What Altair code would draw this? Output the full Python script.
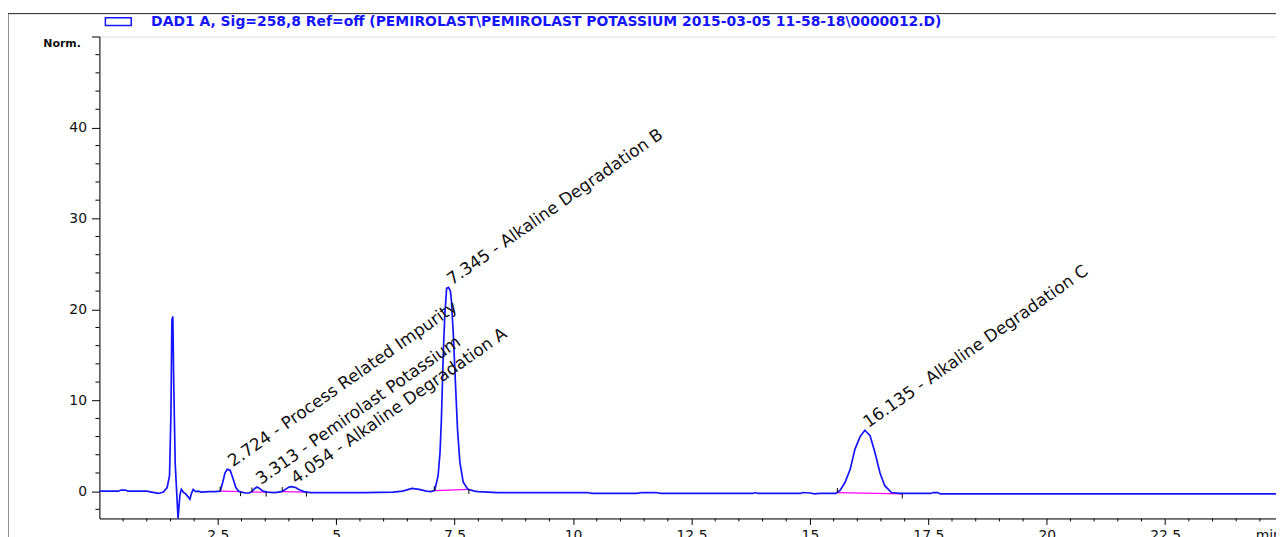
import altair as alt
import pandas as pd

# ---- chromatogram trace (retention time in min, signal in "Norm.") ----
time_min = [0.00, 0.40, 0.46, 0.55, 0.60, 1.00, 1.10, 1.25, 1.35, 1.43, 1.48, 1.51, 1.53, 1.55,
            1.57, 1.60, 1.63, 1.66, 1.70, 1.73, 1.77, 1.82, 1.87, 1.91, 1.94, 1.98, 2.03, 2.08,
            2.15, 2.31, 2.45, 2.55, 2.60, 2.65, 2.70, 2.76, 2.82, 2.88, 2.94, 3.00, 3.08, 3.16,
            3.22, 3.28, 3.33, 3.38, 3.45, 3.55, 3.70, 3.85, 3.93, 4.00, 4.06, 4.14, 4.22, 4.32,
            4.45, 5.00, 5.60, 6.20, 6.40, 6.60, 6.75, 6.90, 7.00, 7.08, 7.15, 7.19, 7.22, 7.26,
            7.29, 7.33, 7.37, 7.41, 7.43, 7.47, 7.52, 7.56, 7.61, 7.68, 7.78, 7.92, 8.00, 8.40,
            9.00, 10.30, 10.40, 11.35, 11.45, 11.75, 11.85, 13.80, 13.85, 13.90, 14.80, 14.85,
            15.00, 15.10, 15.20, 15.55, 15.64, 15.74, 15.85, 15.95, 16.06, 16.16, 16.27, 16.37,
            16.48, 16.58, 16.72, 16.90, 17.55, 17.60, 17.70, 17.75, 24.84]
signal = [0.00, 0.00, 0.12, 0.12, 0.00, 0.00, -0.10, -0.25, -0.10, 0.40, 1.70, 8.60, 18.80, 19.20,
          11.50, 3.00, 0.00, -3.00, -0.40, 0.20, -0.10, -0.30, -0.60, -0.90, -0.30, 0.20, -0.05, 0.00,
          -0.10, -0.05, -0.05, 0.00, 0.90, 2.00, 2.40, 2.30, 1.40, 0.40, 0.00, -0.10, -0.20, -0.20,
          -0.05, 0.30, 0.45, 0.30, 0.00, -0.10, -0.15, -0.05, 0.20, 0.45, 0.50, 0.40, 0.15, -0.05,
          -0.15, -0.15, -0.15, -0.10, 0.00, 0.30, 0.20, 0.00, -0.05, 0.10, 1.70, 4.20, 7.90, 15.20,
          19.20, 22.30, 22.40, 22.00, 21.00, 17.40, 11.50, 6.80, 3.20, 1.00, 0.20, 0.00, -0.05, -0.15,
          -0.15, -0.15, -0.25, -0.25, -0.15, -0.15, -0.25, -0.25, -0.15, -0.25, -0.25, -0.15,
          -0.20, -0.30, -0.25, -0.25, 0.10, 0.95, 2.40, 4.60, 6.00, 6.70, 6.10, 4.30,
          2.00, 0.60, -0.15, -0.25, -0.25, -0.15, -0.15, -0.30, -0.30]

# ---- labelled peaks ----
peak_rt = [2.724, 3.313, 4.054, 7.345, 16.135]
peak_height = [2.4, 0.45, 0.5, 22.4, 6.7]
peak_name = ["Process Related Impurity", "Pemirolast Potassium", "Alkaline Degradation A",
             "Alkaline Degradation B", "Alkaline Degradation C"]

# ---- integration baselines ----
int_start = [2.55, 3.22, 3.86, 7.07, 15.58]
int_end = [2.98, 3.52, 4.37, 7.80, 16.95]
int_start_v = [0.00, -0.10, -0.05, 0.05, -0.15]
int_end_v = [-0.05, -0.10, -0.10, 0.20, -0.30]

# ---- axis ticks ----
y_major = [0, 10, 20, 30, 40, 50]
y_minor = [-2, 2, 4, 6, 8, 12, 14, 16, 18, 22, 24, 26, 28, 32, 34, 36, 38, 42, 44, 46, 48]
x_major = [2.5, 5, 7.5, 10, 12.5, 15, 17.5, 20, 22.5]
x_minor = [0.5, 1, 1.5, 2, 3, 3.5, 4, 4.5, 5.5, 6, 6.5, 7, 8, 8.5, 9, 9.5, 10.5, 11, 11.5, 12,
           13, 13.5, 14, 14.5, 15.5, 16, 16.5, 17, 18, 18.5, 19, 19.5, 20.5, 21, 21.5, 22,
           23, 23.5, 24, 24.5]

legend_label = "DAD1 A, Sig=258,8 Ref=off (PEMIROLAST\\PEMIROLAST POTASSIUM 2015-03-05 11-58-18\\0000012.D)"

W, H = 1184, 485
BLUE = "#1414ff"
FONT = "DejaVu Sans"

trace = pd.DataFrame({"t": time_min, "v": signal, "series": legend_label})
peaks = pd.DataFrame({"t": peak_rt, "v": peak_height,
                      "label": [f"{r:.3f} - {n}" for r, n in zip(peak_rt, peak_name)]})
integ = pd.DataFrame({"t": int_start, "t2": int_end, "v": int_start_v, "v2": int_end_v})
start_ticks = pd.DataFrame({"t": int_start, "v": int_start_v,
                            "v2": [v + 0.5 for v in int_start_v]})
end_ticks = pd.DataFrame({"t": int_end, "v": int_end_v,
                          "v2": [v - 0.5 for v in int_end_v]})
ymin_df = pd.DataFrame({"v": y_minor})
xmin_df = pd.DataFrame({"t": x_minor})

xscale = alt.Scale(domain=[0, 24.84], nice=False, zero=False)
yscale = alt.Scale(domain=[-3, 50], nice=False, zero=False)

xaxis = alt.Axis(values=x_major, format=".1~f", tickSize=6, labelPadding=4, grid=False,
                 domainColor="black", tickColor="black", labelColor="#111111",
                 labelFontSize=14, labelFont=FONT, labelFlush=False,
                 title="min", titleX=1163, titleY=10, titleAlign="left", titleBaseline="top",
                 titleFontWeight="normal", titleFontSize=14, titleFont=FONT, titleColor="#111111")
yaxis = alt.Axis(values=y_major, labelExpr="datum.value >= 50 ? '' : datum.label",
                 tickSize=8, labelPadding=5, grid=False,
                 domainColor="black", tickColor="black", labelColor="#111111",
                 labelFontSize=14, labelFont=FONT,
                 title="Norm.", titleAngle=0, titleX=-57, titleY=7, titleAlign="left",
                 titleBaseline="middle", titleFontWeight="bold", titleFontSize=11,
                 titleFont=FONT, titleColor="#111111")

X = alt.X("t:Q", scale=xscale, axis=xaxis)
Y = alt.Y("v:Q", scale=yscale, axis=yaxis)

line = alt.Chart(trace).mark_line(strokeWidth=1.7, interpolate="linear").encode(
    x=X, y=Y,
    color=alt.Color("series:N", scale=alt.Scale(range=[BLUE]),
                    legend=alt.Legend(orient="none", legendX=5, legendY=-29, title=None,
                                      symbolType="M-1,-0.3H1V0.3H-1Z", symbolSize=676,
                                      symbolStrokeWidth=1.5, symbolFillColor="transparent",
                                      labelColor=BLUE, labelFontSize=14, labelFont=FONT,
                                      labelFontWeight="bold",
                                      labelLimit=1200, labelOffset=19, padding=0)),
)

baselines = alt.Chart(integ).mark_rule(color="#ff00ff", strokeWidth=1.2).encode(
    x=X, x2="t2:Q", y=Y, y2="v2:Q")

sticks = alt.Chart(start_ticks).mark_rule(color="black", strokeWidth=1).encode(
    x=X, y=Y, y2="v2:Q")
eticks = alt.Chart(end_ticks).mark_rule(color="black", strokeWidth=1).encode(
    x=X, y=Y, y2="v2:Q")

labels = alt.Chart(peaks).mark_text(angle=325, align="left", baseline="alphabetic", dx=5, dy=1,
                                    fontSize=17, font=FONT, color="#111111").encode(
    x=X, y=Y, text="label:N")

yminor = alt.Chart(ymin_df).mark_rule(color="black", strokeWidth=1).encode(
    y=Y, x=alt.value(-4), x2=alt.value(0))
xminor = alt.Chart(xmin_df).mark_rule(color="black", strokeWidth=1).encode(
    x=X, y=alt.value(H), y2=alt.value(H + 3))

frame_top = alt.Chart(pd.DataFrame({"k": [0]})).mark_rule(color="#222222", strokeWidth=1).encode(
    x=alt.value(-95), x2=alt.value(W), y=alt.value(-23))
frame_left = alt.Chart(pd.DataFrame({"k": [0]})).mark_rule(color="#222222", strokeWidth=1).encode(
    x=alt.value(-92), y=alt.value(-23), y2=alt.value(H + 20))

chart = alt.layer(frame_top, frame_left, baselines, line, sticks, eticks, labels, yminor, xminor).properties(
    width=W, height=H,
    autosize=alt.AutoSizeParams(type="none"),
    padding={"left": 92, "top": 27, "right": 0, "bottom": 17},
).configure_view(stroke=None).configure(font=FONT)

chart.save("out.html", embed_options={"renderer": "svg", "actions": False})
